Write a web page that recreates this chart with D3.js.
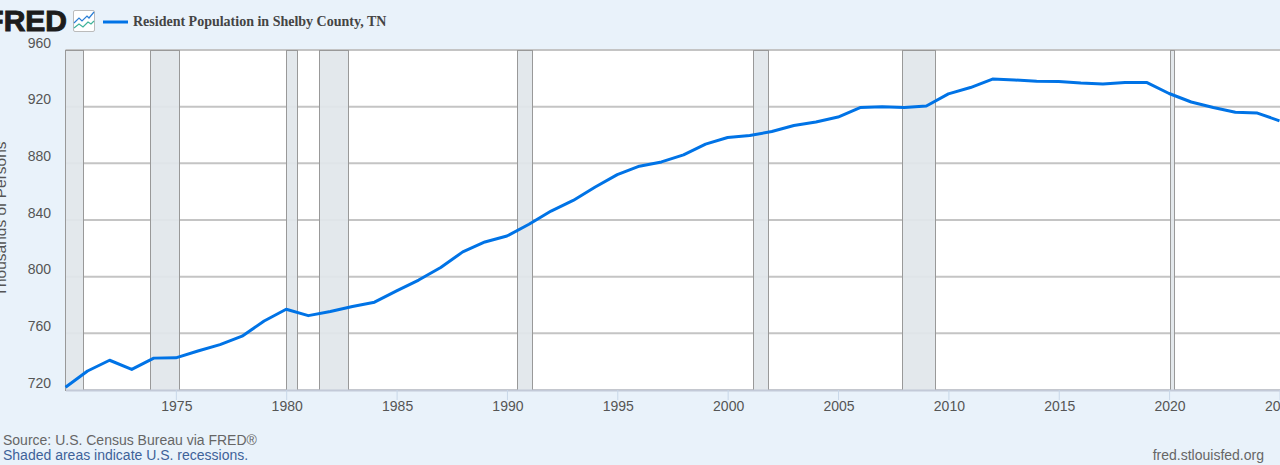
<!DOCTYPE html>
<html>
<head>
<meta charset="utf-8">
<script src="https://cdn.jsdelivr.net/npm/d3@7"></script>
<style>
html, body { margin: 0; padding: 0; background: #e9f2fa; overflow: hidden; }
svg { display: block; font-family: "Liberation Sans", Arial, sans-serif; }
</style>
</head>
<body>
<div id="chart"></div>
<script>
var years = [1970, 1971, 1972, 1973, 1974, 1975, 1976, 1977, 1978, 1979,
    1980, 1981, 1982, 1983, 1984, 1985, 1986, 1987, 1988, 1989,
    1990, 1991, 1992, 1993, 1994, 1995, 1996, 1997, 1998, 1999,
    2000, 2001, 2002, 2003, 2004, 2005, 2006, 2007, 2008, 2009,
    2010, 2011, 2012, 2013, 2014, 2015, 2016, 2017, 2018, 2019,
    2020, 2021, 2022, 2023, 2024, 2025];

var population = [722, 733.4, 741, 734.5, 742.5, 742.7, 747.5, 752, 758, 768.7,
    777, 772.5, 775.4, 779, 782, 790, 797.6, 806.5, 817.5, 824.5,
    828.7, 837, 846.3, 853.8, 863.3, 872, 878, 881, 886, 893.6,
    898.2, 899.6, 902.5, 906.7, 909.2, 912.7, 919.4, 920, 919.4, 920.5,
    929, 933.5, 939.5, 938.8, 938, 937.8, 936.7, 936, 937, 937,
    929.3, 923.3, 919.4, 916, 915.5, 910];

var recessionStarts = ["1969-12-01", "1973-11-01", "1980-01-01", "1981-07-01", "1990-07-01", "2001-03-01", "2007-12-01", "2020-02-01"];
var recessionEnds = ["1970-11-01", "1975-03-01", "1980-07-01", "1982-11-01", "1991-03-01", "2001-11-01", "2009-06-01", "2020-04-01"];

var yTicks = [720, 760, 800, 840, 880, 920, 960];
var xTickYears = [1975, 1980, 1985, 1990, 1995, 2000, 2005, 2010, 2015, 2020, 2025];

var seriesName = "Resident Population in Shelby County, TN";
var yTitle = "Thousands of Persons";

var width = 1280, height = 465;
var margin = {top: 50, right: 0.5, bottom: 75, left: 65.5};
var lineColor = "#0073e6";

var x = d3.scaleTime()
    .domain([new Date(1970, 0, 1), new Date(2025, 0, 1)])
    .range([margin.left, width - margin.right]);

var y = d3.scaleLinear()
    .domain([720, 960])
    .range([height - margin.bottom, margin.top]);

var svg = d3.select("#chart").append("svg")
    .attr("width", width)
    .attr("height", height);

svg.append("defs").append("clipPath")
    .attr("id", "plot-clip")
  .append("rect")
    .attr("x", margin.left - 1)
    .attr("y", margin.top - 1)
    .attr("width", width - margin.left + 1)
    .attr("height", height - margin.top - margin.bottom + 2);

// plot background
svg.append("rect")
    .attr("x", margin.left)
    .attr("y", margin.top)
    .attr("width", width - margin.left)
    .attr("height", height - margin.top - margin.bottom)
    .attr("fill", "#fff");

// grid lines, under the recession bands
svg.append("g")
    .selectAll("line")
    .data(yTicks)
  .enter().append("line")
    .attr("x1", margin.left)
    .attr("x2", width)
    .attr("y1", function(d) { return y(d); })
    .attr("y2", function(d) { return y(d); })
    .attr("stroke", "#c4c4c4")
    .attr("stroke-width", 2);

// recessions
svg.append("g")
    .attr("clip-path", "url(#plot-clip)")
    .selectAll("rect")
    .data(recessionStarts)
  .enter().append("rect")
    .attr("x", function(d) { return Math.max(x(new Date(d)), margin.left); })
    .attr("width", function(d, i) {
        return x(new Date(recessionEnds[i])) - Math.max(x(new Date(d)), margin.left);
    })
    .attr("y", margin.top)
    .attr("height", height - margin.top - margin.bottom)
    .attr("fill", "#e1e6ea")
    .attr("fill-opacity", 0.92)
    .attr("stroke", "#999")
    .attr("stroke-width", 1)
    .attr("shape-rendering", "crispEdges");

// x axis
var xAxis = d3.axisBottom(x)
    .tickValues(xTickYears.map(function(d) { return new Date(d, 0, 1); }))
    .tickFormat(d3.timeFormat("%Y"))
    .tickSize(10)
    .tickSizeOuter(0)
    .tickPadding(1);

var gx = svg.append("g")
    .attr("transform", "translate(0," + (height - margin.bottom) + ")")
    .call(xAxis);
gx.select(".domain").attr("stroke", "#c3cad8").attr("stroke-width", 2);
gx.selectAll(".tick line").attr("stroke", "#c8d7e8");
gx.selectAll(".tick text")
    .attr("dx", 0.5)
    .attr("fill", "#555")
    .style("font-size", "14px")
    .style("font-family", "Liberation Sans");

// y axis
var yAxis = d3.axisLeft(y)
    .tickValues(yTicks)
    .tickSize(0)
    .tickPadding(14.5);

var gy = svg.append("g")
    .attr("transform", "translate(" + margin.left + ",0)")
    .call(yAxis);
gy.select(".domain").remove();
gy.selectAll(".tick text")
    .attr("dy", -3)
    .attr("fill", "#555")
    .style("font-size", "14px")
    .style("font-family", "Liberation Sans");

// y title, cut off by the left edge
svg.append("text")
    .attr("transform", "translate(6,219) rotate(-90)")
    .attr("text-anchor", "middle")
    .attr("fill", "#555")
    .style("font-size", "15.5px")
    .text(yTitle);

// series
var line = d3.line()
    .x(function(d, i) { return x(new Date(d, 0, 1)); })
    .y(function(d, i) { return y(population[i]); });

svg.append("path")
    .datum(years)
    .attr("clip-path", "url(#plot-clip)")
    .attr("fill", "none")
    .attr("stroke", lineColor)
    .attr("stroke-width", 3)
    .attr("stroke-linejoin", "round")
    .attr("d", line);

// header
svg.append("text")
    .attr("x", 67)
    .attr("y", 31)
    .attr("text-anchor", "end")
    .attr("fill", "#1d1d1d")
    .attr("stroke", "#1d1d1d")
    .attr("stroke-width", 1)
    .style("font-size", "30px")
    .style("font-weight", "bold")
    .text("FRED");

var icon = svg.append("g").attr("transform", "translate(73,10)");
icon.append("rect")
    .attr("x", 0.5).attr("y", 0.5)
    .attr("width", 21).attr("height", 21)
    .attr("rx", 1.5)
    .attr("fill", "#fff")
    .attr("stroke", "#bbb");
icon.append("path")
    .attr("d", "M1 13L6 8L9 11L14 6L16 8L21 2")
    .attr("fill", "none")
    .attr("stroke", "#2b7fd6")
    .attr("stroke-width", 1.2);
icon.append("path")
    .attr("d", "M1 18L6 14L10 17L15 12L18 14L21 11")
    .attr("fill", "none")
    .attr("stroke", "#3fb39b")
    .attr("stroke-width", 1.2);

svg.append("line")
    .attr("x1", 103)
    .attr("x2", 128)
    .attr("y1", 22)
    .attr("y2", 22)
    .attr("stroke", lineColor)
    .attr("stroke-width", 3);

svg.append("text")
    .attr("x", 133)
    .attr("y", 26)
    .attr("fill", "#444")
    .style("font-family", "Liberation Serif")
    .style("font-weight", "bold")
    .style("font-size", "14px")
    .text(seriesName);

// footer
svg.append("text")
    .attr("x", 3)
    .attr("y", 445)
    .attr("fill", "#666")
    .style("font-size", "14px")
    .text("Source: U.S. Census Bureau via FRED®");

svg.append("text")
    .attr("x", 3)
    .attr("y", 460)
    .attr("fill", "#3e6299")
    .style("font-size", "14px")
    .text("Shaded areas indicate U.S. recessions.");

svg.append("text")
    .attr("x", 1264)
    .attr("y", 460)
    .attr("text-anchor", "end")
    .attr("fill", "#666")
    .style("font-size", "14px")
    .text("fred.stlouisfed.org");
</script>
</body>
</html>
